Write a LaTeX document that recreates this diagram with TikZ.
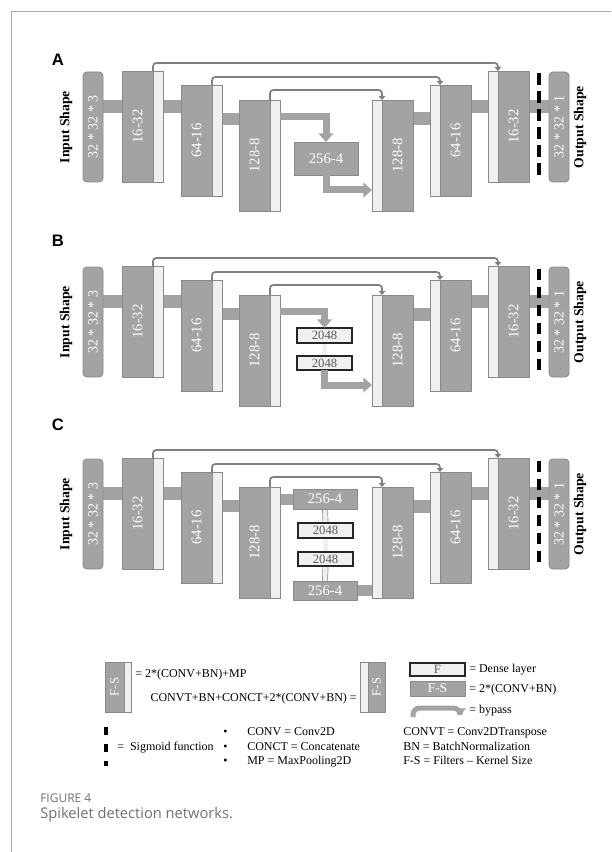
\documentclass[tikz,border=0pt]{standalone}
\usepackage{fontspec}
\setmainfont{Liberation Serif}
\newfontfamily\capfont{Open Sans}
\newfontfamily\labfont{Liberation Sans}
\usepackage{graphicx}
\usetikzlibrary{arrows.meta,calc}
\pgfdeclarelayer{bg}
\pgfsetlayers{bg,main}
\newdimen\pxu
\pxu=0.75pt
\definecolor{boxgray}{HTML}{A3A3A3}
\definecolor{edgegray}{HTML}{8A8A8A}
\definecolor{stripgray}{HTML}{F0F0F0}
\definecolor{linegray}{HTML}{808080}
\definecolor{framegray}{HTML}{A8A8A8}
\definecolor{capgray}{HTML}{707070}
\tikzset{
 darkbox/.style={draw=edgegray, fill=boxgray, line width=0.7pt, inner sep=0pt, outer sep=0pt, anchor=north west, text=white, font=\fontsize{11}{11}\selectfont},
 lightbox/.style={draw=edgegray, fill=stripgray, line width=0.7pt, inner sep=0pt, outer sep=0pt, anchor=north west},
 shapebox/.style={darkbox, rounded corners=3pt, minimum width=20\pxu, minimum height=110\pxu, font=\fontsize{10.5}{10.5}\selectfont},
 densebox/.style={draw=black!85, fill=stripgray, line width=1pt, inner sep=0pt, outer sep=0pt, anchor=north west, minimum width=55\pxu, text=black!65, font=\fontsize{9.5}{9.5}\selectfont},
 barline/.style={draw=boxgray, line width=13\pxu},
 lightconn/.style={draw=edgegray, line width=0.5pt, double=stripgray, double distance=4.5\pxu},
 bypass/.style={draw=linegray, line width=1.3pt, rounded corners=2.5pt, -{Triangle[length=3pt,width=5pt]}},
 fatarrow/.style={draw=boxgray, line width=7\pxu, -{Triangle[length=6.5pt,width=11pt]}},
 legbypass/.style={draw=boxgray, line width=5\pxu, rounded corners=5pt, -{Triangle[length=5pt,width=9pt]}},
 sigdash/.style={draw=black, line width=2.4pt, dash pattern=on 8.5pt off 5pt},
 legdash/.style={draw=black, line width=2.4pt, dash pattern=on 6pt off 6.75pt},
 shapelabel/.style={font=\bfseries\fontsize{10.3}{10.3}\selectfont, inner sep=0pt},
 legtext/.style={font=\fontsize{9}{11}\selectfont, inner sep=0pt, anchor=west, text height=6.5pt, text depth=2pt},
 panellabel/.style={font=\labfont\bfseries\fontsize{12.5}{12.5}\selectfont, inner sep=0pt},
}
\newcommand\encblock[4]{%
  \node[darkbox,minimum width=31\pxu,minimum height=111\pxu] (#1) at (#2,#3) {\rotatebox{90}{#4}};
  \node[lightbox,minimum width=10\pxu,minimum height=111\pxu] (#1s) at (#1.north east) {};}
\newcommand\decblock[4]{%
  \node[lightbox,minimum width=10\pxu,minimum height=111\pxu] (#1s) at (#2,#3) {};
  \node[darkbox,minimum width=31\pxu,minimum height=111\pxu] (#1) at (#1s.north east) {\rotatebox{90}{#4}};}
\newcommand\unetframe[2]{%
\begin{scope}[shift={(0,#2)}]
  \coordinate (#1ya) at (0,106.5);
  \coordinate (#1yb) at (0,119);
  \coordinate (#1arr) at (0,116.5);
  \coordinate (#1arrb) at (0,190);
  \node[shapebox] (#1in) at (83,72) {\rotatebox{90}{32 * 32 * 3}};
  \node[shapelabel,rotate=90] (#1inl) at (66,127) {Input Shape};
  \encblock{#1e1}{122}{71}{16-32}
  \encblock{#1e2}{181}{85}{64-16}
  \encblock{#1e3}{239}{100}{128-8}
  \decblock{#1d3}{372}{100}{128-8}
  \decblock{#1d2}{430}{85}{64-16}
  \decblock{#1d1}{488}{71}{16-32}
  \node[shapebox] (#1out) at (549,72) {\rotatebox{90}{32 * 32 * 1}};
  \node[shapelabel,rotate=90] (#1outl) at (580,127) {Output Shape};
  \begin{pgfonlayer}{bg}
    \draw[barline] (#1in.east |- #1ya) -- (#1e1.west |- #1ya);
    \draw[barline] (#1e1s.east |- #1ya) -- (#1e2.west |- #1ya);
    \draw[barline,line width=12\pxu] (#1e2s.east |- #1yb) -- (#1e3.west |- #1yb);
    \draw[barline] (#1d3.east |- #1yb) -- (#1d2s.west |- #1yb);
    \draw[barline] (#1d2.east |- #1ya) -- (#1d1s.west |- #1ya);
    \draw[barline] (#1d1.east |- #1ya) -- (#1out.west |- #1ya);
  \end{pgfonlayer}
  \draw[sigdash] ($(#1d1.north east)!0.5!(#1out.north west)+(0,2)$) -- ++(0,105);
  \draw[bypass] (#1e1.north east) |- ([yshift=8\pxu]#1d1.north west) -- (#1d1.north west);
  \draw[bypass] (#1e2.north east) |- ([yshift=8\pxu]#1d2.north west) -- (#1d2.north west);
  \draw[bypass] (#1e3.north east) |- ([yshift=10\pxu]#1d3.north west) -- (#1d3.north west);
\end{scope}}
\begin{document}
\begin{tikzpicture}[x=0.75pt,y=-0.75pt]
\useasboundingbox (0,0) rectangle (611,852);
\draw[framegray, line width=0.9pt] (611,11.5) -- (11.5,11.5) -- (11.5,852);
% panel labels
\node[panellabel] (labA) at (58,60) {A};
\node[panellabel] (labB) at (58,241) {B};
\node[panellabel] (labC) at (58,425) {C};
% ---------- A ----------
\unetframe{A}{0}
\begin{scope}[shift={(0,0)}]
  \node[darkbox,minimum width=64\pxu,minimum height=33\pxu] (Amid) at (294,142) {256-4};
  \draw[fatarrow] (Ae3s.east |- Aarr) -| (Amid.north);
  \draw[fatarrow] (Amid.south) |- (Ad3s.west |- Aarrb);
\end{scope}
% ---------- B ----------
\unetframe{B}{195}
\begin{scope}[shift={(0,195)}]
  \node[densebox,minimum height=15\pxu] (Bf1) at (297,133) {2048};
  \node[densebox,minimum height=14\pxu] (Bf2) at (297,161) {2048};
  \begin{pgfonlayer}{bg}
    \draw[lightconn] (Bf1.south) -- (Bf2.north);
  \end{pgfonlayer}
  \draw[fatarrow] (Be3s.east |- Barr) -| (Bf1.north);
  \draw[fatarrow] (Bf2.south) |- (Bd3s.west |- Barrb);
\end{scope}
% ---------- C ----------
\unetframe{C}{387}
\begin{scope}[shift={(0,387)}]
  \coordinate (Cc1) at (0,112.5);
  \coordinate (Cc2) at (0,203.5);
  \node[darkbox,minimum width=64\pxu,minimum height=20\pxu] (Ct) at (293,102) {256-4};
  \node[densebox,minimum height=15\pxu] (Cf1) at (298,136) {2048};
  \node[densebox,minimum height=14\pxu] (Cf2) at (298,165) {2048};
  \node[darkbox,minimum width=64\pxu,minimum height=19\pxu] (Cb) at (293,194) {256-4};
  \begin{pgfonlayer}{bg}
    \draw[lightconn] (Ct.south) -- (Cf1.north);
    \draw[lightconn] (Cf1.south) -- (Cf2.north);
    \draw[lightconn] (Cf2.south) -- (Cb.north);
    \draw[barline,line width=11\pxu] (Ce3s.east |- Cc1) -- (Ct.west |- Cc1);
    \draw[barline,line width=11\pxu] (Cb.east |- Cc2) -- (Cd3s.west |- Cc2);
  \end{pgfonlayer}
\end{scope}
% ---------- legend ----------
\node[darkbox,minimum width=19\pxu,minimum height=50\pxu,font=\fontsize{9.5}{9.5}\selectfont] (lenc) at (105,662) {\rotatebox{90}{F-S}};
\node[lightbox,minimum width=7\pxu,minimum height=50\pxu] (lencs) at (lenc.north east) {};
\node[legtext] (lenct) at (135,674) {= 2*(CONV+BN)+MP};
\node[legtext,anchor=east] (ldect) at (357,698) {CONVT+BN+CONCT+2*(CONV+BN) =};
\node[lightbox,minimum width=8\pxu,minimum height=50\pxu] (ldecs) at (360,662) {};
\node[darkbox,minimum width=17\pxu,minimum height=50\pxu,font=\fontsize{9.5}{9.5}\selectfont] (ldec) at (ldecs.north east) {\rotatebox{90}{F-S}};
\node[densebox,minimum height=13\pxu] (lden) at (410,663) {F};
\node[legtext] (ldent) at (469,669.5) {= Dense layer};
\node[darkbox,minimum width=55\pxu,minimum height=15\pxu,font=\fontsize{10}{10}\selectfont] (lconv) at (410,681) {F-S};
\node[legtext] (lconvt) at (469,689) {= 2*(CONV+BN)};
\coordinate (lbs) at (413,717);
\coordinate (lbe) at (460,715);
\draw[legbypass] (lbs) |- ([yshift=7\pxu]lbe) -- (lbe);
\node[legtext] (lbt) at (469,710) {= bypass};
\draw[legdash] (106,727) -- (106,766);
\node[legtext] (lsig) at (117,747) {=\ \ Sigmoid function};
\node[legtext] (b1) at (223,732) {•};
\node[legtext] (b2) at (223,747) {•};
\node[legtext] (b3) at (223,761) {•};
\node[legtext] (t1) at (247,732) {CONV = Conv2D};
\node[legtext] (t2) at (247,747) {CONCT = Concatenate};
\node[legtext] (t3) at (247,761) {MP = MaxPooling2D};
\node[legtext] (r1) at (403,732) {CONVT = Conv2DTranspose};
\node[legtext] (r2) at (403,747) {BN = BatchNormalization};
\node[legtext] (r3) at (403,761) {F-S = Filters – Kernel Size};
% ---------- caption ----------
\node[anchor=west, inner sep=0pt, text=capgray, font=\capfont\fontsize{9}{9}\selectfont] (cap1) at (40,798) {FIGURE 4};
\node[anchor=west, inner sep=0pt, text=capgray, font=\capfont\fontsize{11}{11}\selectfont] (cap2) at (40,815) {Spikelet detection networks.};
\end{tikzpicture}
\end{document}
